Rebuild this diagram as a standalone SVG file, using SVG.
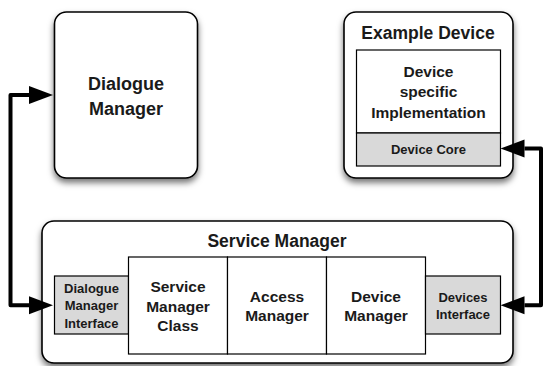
<svg xmlns="http://www.w3.org/2000/svg" width="544" height="366" viewBox="0 0 544 366">
  <style>
    .outer { fill: #ffffff; stroke: #000000; stroke-width: 1.6; filter: url(#shadow); }
    .part { fill: #ffffff; stroke: #000000; stroke-width: 1.2; }
    .port { fill: #d9d9d9; stroke: #000000; stroke-width: 1.2; }
    text { font-family: "Liberation Sans", Arial, sans-serif; font-weight: bold; fill: #1a1a1a; text-anchor: middle; }
    .t18 { font-size: 18px; }
    .t17 { font-size: 17.5px; }
    .t15 { font-size: 15.5px; }
    .t13 { font-size: 13px; }
    .link { fill: none; stroke: #000000; stroke-width: 4; stroke-linejoin: round; marker-start: url(#head); marker-end: url(#head); }
  </style>
  <defs>
    <filter id="shadow" x="-20%" y="-20%" width="140%" height="150%">
      <feDropShadow dx="0" dy="4" stdDeviation="3" flood-color="#000000" flood-opacity="0.55"/>
    </filter>
    <marker id="head" markerUnits="userSpaceOnUse" markerWidth="26" markerHeight="20" refX="0" refY="9" orient="auto-start-reverse" overflow="visible">
      <path d="M0,0 L24,9 L0,18 Z" fill="#000000"/>
    </marker>
  </defs>

  <g id="dialogue-manager">
    <rect class="outer" x="54.5" y="12" width="143" height="166" rx="12"/>
    <text class="t18" x="126" y="90">Dialogue</text>
    <text class="t18" x="126" y="115">Manager</text>
  </g>

  <g id="example-device">
    <rect class="outer" x="344" y="12" width="169" height="166" rx="12"/>
    <text class="t17" x="428" y="39">Example Device</text>
    <g id="device-specific-implementation">
      <rect class="part" x="356.5" y="50" width="144" height="83"/>
      <text class="t15" x="428.5" y="77">Device</text>
      <text class="t15" x="428.5" y="97">specific</text>
      <text class="t15" x="428.5" y="118">Implementation</text>
    </g>
    <g id="device-core">
      <rect class="port" x="356.5" y="133" width="144" height="33"/>
      <text class="t13" x="428.5" y="154">Device Core</text>
    </g>
  </g>

  <g id="service-manager">
    <rect class="outer" x="42" y="221" width="471" height="142" rx="12"/>
    <text class="t17" x="277" y="247">Service Manager</text>
    <g id="dialogue-manager-interface">
      <rect class="port" x="54.5" y="276" width="74" height="58"/>
      <text class="t13" x="91.5" y="292.5">Dialogue</text>
      <text class="t13" x="91.5" y="310">Manager</text>
      <text class="t13" x="91.5" y="327.5">Interface</text>
    </g>
    <g id="service-manager-class">
      <rect class="part" x="128.5" y="257" width="99" height="97"/>
      <text class="t15" x="178" y="291.5">Service</text>
      <text class="t15" x="178" y="311.5">Manager</text>
      <text class="t15" x="178" y="331">Class</text>
    </g>
    <g id="access-manager">
      <rect class="part" x="227.5" y="257" width="99" height="97"/>
      <text class="t15" x="277" y="302">Access</text>
      <text class="t15" x="277" y="321">Manager</text>
    </g>
    <g id="device-manager">
      <rect class="part" x="326.5" y="257" width="99" height="97"/>
      <text class="t15" x="376" y="302">Device</text>
      <text class="t15" x="376" y="321">Manager</text>
    </g>
    <g id="devices-interface">
      <rect class="port" x="425.5" y="276" width="75" height="58"/>
      <text class="t13" x="463" y="301.5">Devices</text>
      <text class="t13" x="463" y="319">Interface</text>
    </g>
  </g>

  <g id="connectors">
    <path class="link" d="M29,95 L10.5,95 L10.5,305.3 L29,305.3"/>
    <path class="link" d="M524.5,148.5 L541,148.5 L541,305.3 L524.5,305.3"/>
  </g>
</svg>
